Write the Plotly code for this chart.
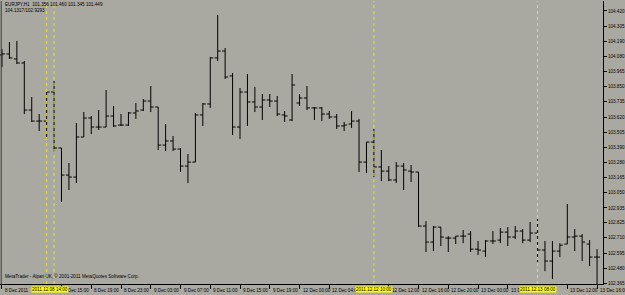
import plotly.graph_objects as go

# Hourly bars, 8 Dec 2011 07:00 -> 13 Dec 2011 16:00 (index positions)
bar_index = list(range(81))

opens = [104.088, 104.096, 104.058, 104.028, 103.673, 103.590, 103.590, 103.809, 103.387, 103.183,
         103.168, 103.470, 103.613, 103.545, 103.545, 103.628, 103.560, 103.560, 103.651, 103.673,
         103.741, 103.696, 103.409, 103.440, 103.379, 103.251, 103.281, 103.636, 103.719, 104.066,
         104.118, 103.930, 103.545, 103.809, 103.734, 103.696, 103.749, 103.741, 103.636, 103.598,
         103.726, 103.764, 103.689, 103.689, 103.643, 103.621, 103.553, 103.568, 103.590, 103.281,
         103.432, 103.244, 103.213, 103.146, 103.251, 103.213, 103.206, 102.799, 102.678, 102.791,
         102.708, 102.708, 102.723, 102.738, 102.625, 102.610, 102.686, 102.693, 102.753, 102.716,
         102.761, 102.693, 102.746, 102.618, 102.535, 102.610, 102.663, 102.716, 102.723, 102.663,
         102.565]
highs = [104.133, 104.186, 104.194, 104.043, 103.771, 103.643, 103.809, 103.892, 103.387, 103.274,
         103.575, 103.658, 103.628, 103.673, 103.824, 103.704, 103.643, 103.658, 103.726, 103.756,
         103.854, 103.696, 103.568, 103.477, 103.387, 103.342, 103.651, 103.726, 104.073, 104.390,
         104.141, 103.952, 103.839, 103.945, 103.847, 103.794, 103.794, 103.779, 103.666, 103.945,
         103.794, 103.854, 103.696, 103.696, 103.666, 103.643, 103.583, 103.666, 103.606, 103.432,
         103.530, 103.372, 103.251, 103.281, 103.274, 103.259, 103.206, 102.836, 102.799, 102.791,
         102.723, 102.723, 102.769, 102.761, 102.686, 102.693, 102.761, 102.784, 102.791, 102.799,
         102.776, 102.829, 102.851, 102.686, 102.686, 102.670, 102.965, 102.776, 102.738, 102.693,
         102.625]
lows = [103.998, 104.058, 104.020, 103.643, 103.583, 103.515, 103.455, 103.357, 102.980, 103.070,
        103.123, 103.470, 103.492, 103.523, 103.545, 103.545, 103.553, 103.553, 103.606, 103.666,
        103.658, 103.372, 103.364, 103.364, 103.206, 103.123, 103.281, 103.553, 103.689, 104.043,
        103.907, 103.485, 103.455, 103.553, 103.658, 103.598, 103.696, 103.628, 103.583, 103.590,
        103.704, 103.673, 103.598, 103.590, 103.606, 103.530, 103.515, 103.538, 103.206, 103.198,
        103.168, 103.138, 103.138, 103.123, 103.070, 103.131, 102.791, 102.603, 102.610, 102.648,
        102.603, 102.663, 102.670, 102.603, 102.580, 102.565, 102.663, 102.670, 102.648, 102.701,
        102.670, 102.678, 102.527, 102.459, 102.399, 102.565, 102.663, 102.610, 102.535, 102.497,
        102.361]
closes = [104.096, 104.066, 104.028, 103.673, 103.590, 103.590, 103.809, 103.387, 103.183, 103.168,
          103.470, 103.613, 103.545, 103.545, 103.628, 103.553, 103.560, 103.651, 103.666, 103.741,
          103.696, 103.409, 103.440, 103.379, 103.251, 103.281, 103.636, 103.719, 104.066, 104.118,
          103.922, 103.545, 103.809, 103.734, 103.696, 103.749, 103.741, 103.643, 103.628, 103.862,
          103.764, 103.689, 103.689, 103.643, 103.621, 103.553, 103.560, 103.590, 103.281, 103.432,
          103.244, 103.213, 103.146, 103.251, 103.221, 103.206, 102.799, 102.678, 102.791, 102.716,
          102.708, 102.723, 102.723, 102.625, 102.618, 102.686, 102.686, 102.753, 102.716, 102.761,
          102.693, 102.746, 102.618, 102.535, 102.610, 102.655, 102.716, 102.723, 102.678, 102.565,
          102.565]

price_ticks = [104.420, 104.305, 104.190, 104.080, 103.965, 103.850, 103.735, 103.620, 103.505, 103.390,
               103.280, 103.165, 103.050, 102.935, 102.825, 102.710, 102.595, 102.480, 102.365]
price_tick_text = ["104.420", "104.305", "104.190", "104.080", "103.965", "103.850", "103.735", "103.620",
                   "103.505", "103.390", "103.280", "103.165", "103.050", "102.935", "102.825", "102.710",
                   "102.595", "102.480", "102.365"]

time_tick_pos = [0, 8, 12, 16, 20, 24, 28, 32, 36, 40, 44, 52, 56, 60, 64, 68, 76, 80]
time_tick_text = ["8 Dec 2011", "8 Dec 15:00", "8 Dec 19:00", "8 Dec 23:00", "9 Dec 03:00", "9 Dec 07:00",
                  "9 Dec 11:00", "9 Dec 15:00", "9 Dec 19:00", "12 Dec 00:00", "12 Dec 04:00",
                  "12 Dec 12:00", "12 Dec 16:00", "12 Dec 20:00", "13 Dec 00:00", "13 Dec 04:00",
                  "13 Dec 12:00", "13 Dec 16:00"]

vline_pos = [6, 7, 50, 72]
vline_label_pos = [6.4, 50, 72]
vline_label_text = ["2011.12.08 14:00", "2011.12.12 10:00", "2011.12.13 08:00"]

BG = "rgb(169,169,162)"
FONT = "Liberation Sans"
FS = 4.6

fig = go.Figure()
fig.add_trace(go.Ohlc(
    x=bar_index, open=opens, high=highs, low=lows, close=closes,
    increasing=dict(line=dict(color="black", width=1)),
    decreasing=dict(line=dict(color="black", width=1)),
    tickwidth=0.4, hoverinfo="skip", showlegend=False,
))

shapes = []
for p in vline_pos:
    shapes.append(dict(type="line", xref="x", yref="paper", x0=p, x1=p, y0=0, y1=1,
                       line=dict(color="rgb(235,235,0)", width=1, dash="dot"), layer="above"))
# left border
shapes.append(dict(type="line", xref="paper", yref="paper", x0=0.002, x1=0.002, y0=0, y1=1,
                   line=dict(color="rgb(60,60,60)", width=1)))

annotations = []
for pos, txt in zip(time_tick_pos, time_tick_text):
    annotations.append(dict(x=pos, y=0, xref="x", yref="paper", yshift=-2, text=txt, showarrow=False,
                            xanchor="left", yanchor="top", xshift=1,
                            font=dict(family=FONT, size=FS, color="black")))
for pos, txt in zip(vline_label_pos, vline_label_text):
    annotations.append(dict(x=pos, y=0, xref="x", yref="paper", yshift=-2, text=txt, showarrow=False,
                            xanchor="center", yanchor="top", bgcolor="yellow", borderpad=0,
                            font=dict(family=FONT, size=FS, color="black")))
annotations.append(dict(x=0.005, y=1, xref="paper", yref="paper", yshift=1,
                        text="EURJPY,H1  101.356 101.460 101.345 101.449<br>104.1317/102.9293",
                        showarrow=False, xanchor="left", yanchor="top", align="left",
                        font=dict(family=FONT, size=FS, color="black")))
annotations.append(dict(x=0.005, y=0, xref="paper", yref="paper", yshift=3,
                        text="MetaTrader - Alpari UK, © 2001-2011 MetaQuotes Software Corp.",
                        showarrow=False, xanchor="left", yanchor="bottom",
                        font=dict(family=FONT, size=FS, color="black")))

fig.update_layout(
    width=625, height=295,
    margin=dict(l=0, r=17, t=1, b=11),
    paper_bgcolor=BG, plot_bgcolor=BG,
    shapes=shapes, annotations=annotations,
    xaxis=dict(range=[-0.267, 80.8], rangeslider=dict(visible=False), showgrid=False, zeroline=False,
               tickvals=time_tick_pos, ticktext=[""] * len(time_tick_pos), ticks="outside", ticklen=4,
               tickcolor="black", showline=True, linecolor="black", linewidth=1),
    yaxis=dict(range=[102.362, 104.495], side="right", showgrid=False, zeroline=False,
               tickvals=price_ticks, ticktext=price_tick_text, ticks="outside", ticklen=3,
               tickcolor="black", showline=True, linecolor="black", linewidth=1,
               tickfont=dict(family=FONT, size=FS, color="black")),
)

fig.write_html("out.html")
